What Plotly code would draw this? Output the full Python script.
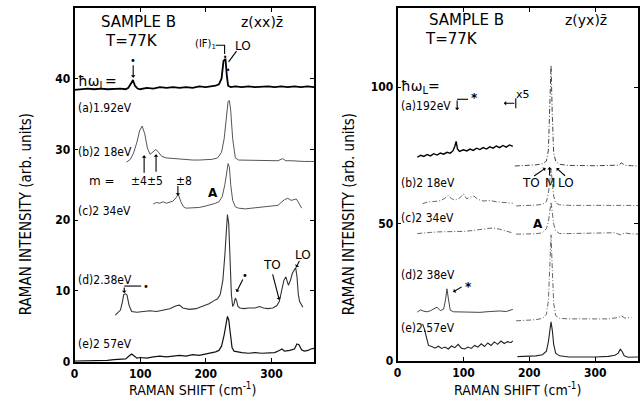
import plotly.graph_objects as go

# ---------------- data: left panel z(xx)z ----------------
a_x = [0, 10, 20, 30, 40, 50, 60, 70, 78, 82, 86, 89, 92, 96, 100, 110, 120, 130, 140, 150,
       160, 170, 180, 190, 200, 210, 215, 220, 224, 227, 230, 232, 234, 238, 245, 255, 265, 275, 285, 295,
       305, 315, 325, 335, 345, 355, 365]
a_y = [38.4, 38.5, 38.6, 38.5, 38.6, 38.5, 38.6, 38.6, 38.5, 38.7, 39.3, 39.8, 39.0, 38.6, 38.5, 38.7, 38.6, 38.8, 38.7, 38.8,
       38.7, 38.8, 38.7, 38.9, 38.8, 38.9, 39.0, 39.2, 40.0, 42.5, 42.8, 40.5, 39.0, 38.8, 38.9, 38.8, 38.9, 38.8, 38.9, 38.9,
       38.8, 38.9, 38.8, 38.9, 38.8, 38.9, 38.8]

b_x = [79, 85, 90, 95, 99, 103, 107, 111, 115, 119, 124, 128, 133, 140, 150, 160, 170, 180, 190, 200,
       210, 218, 224, 228, 231, 234, 236, 238, 241, 245, 250, 260, 270, 280, 290, 300, 310, 317, 322, 330,
       340, 350, 360, 365]
b_y = [28.2, 28.6, 29.5, 31.0, 32.6, 33.3, 32.2, 30.2, 29.3, 29.6, 30.0, 29.6, 29.0, 28.8, 28.7, 28.6, 28.6, 28.5, 28.5, 28.5,
       28.6, 28.8, 29.6, 31.5, 34.5, 36.8, 36.9, 35.5, 31.5, 28.8, 28.5, 28.5, 28.4, 28.4, 28.5, 28.4, 28.4, 28.7, 28.4, 28.4,
       28.3, 28.3, 28.3, 28.3]

c_x = [120, 125, 130, 135, 140, 145, 150, 155, 158, 162, 166, 170, 180, 190, 200, 210, 215, 220, 225, 229,
       232, 234, 236, 238, 241, 245, 250, 260, 270, 280, 290, 300, 310, 316, 320, 325, 330, 334, 338, 342, 346]
c_y = [22.3, 22.5, 22.4, 22.6, 22.4, 22.5, 22.7, 23.2, 23.7, 22.6, 21.9, 21.7, 21.7, 21.8, 22.0, 22.2, 22.4, 22.6, 23.3, 25.0,
       27.2, 28.0, 27.5, 25.0, 22.8, 21.9, 21.7, 21.6, 21.7, 21.8, 21.8, 21.9, 22.1, 22.6, 22.9, 23.1, 22.8, 22.9, 23.0, 22.4, 21.7]

d_x = [62, 66, 70, 73, 75, 78, 80, 83, 87, 95, 105, 115, 125, 135, 145, 155, 160, 165, 175, 185,
       195, 205, 212, 218, 222, 226, 229, 231, 233, 235, 237, 239, 241, 243, 245, 247, 249, 252, 258, 265,
       275, 282, 288, 295, 302, 308, 312, 316, 319, 322, 324, 326, 329, 332, 335, 337, 339, 341, 343, 346, 348]
d_y = [6.6, 6.9, 7.3, 8.5, 9.5, 9.6, 9.4, 8.0, 7.1, 7.0, 7.1, 7.2, 7.1, 7.3, 7.5, 7.9, 8.0, 7.6, 7.4, 7.5,
       7.8, 8.2, 8.6, 8.9, 9.5, 11.5, 15.0, 19.0, 20.8, 19.5, 14.0, 9.5, 7.8, 8.2, 9.0, 8.6, 7.8, 7.6, 7.5, 7.6,
       7.6, 7.8, 7.6, 7.5, 7.6, 7.9, 8.5, 10.0, 11.5, 12.0, 11.3, 10.8, 11.5, 12.5, 13.0, 13.3, 12.0, 9.5, 8.5, 8.0, 7.7]

e_x = [0, 10, 20, 30, 40, 50, 60, 70, 78, 83, 87, 91, 95, 100, 110, 120, 130, 140, 150, 160,
       170, 180, 190, 200, 210, 215, 220, 224, 228, 231, 233, 235, 237, 240, 243, 247, 255, 265, 275, 285,
       295, 305, 312, 316, 320, 328, 335, 339, 342, 346, 350, 356, 360, 365]
e_y = [0.1, 0.1, 0.2, 0.1, 0.2, 0.2, 0.3, 0.3, 0.4, 0.8, 1.1, 0.8, 0.5, 0.6, 0.5, 0.7, 0.8, 0.7, 0.8, 0.9,
       0.8, 1.0, 0.9, 1.1, 1.2, 1.4, 1.6, 2.2, 3.8, 5.8, 6.4, 5.9, 4.0, 2.0, 1.5, 1.4, 1.3, 1.2, 1.3, 1.2,
       1.3, 1.3, 1.6, 1.8, 1.5, 1.6, 1.8, 2.5, 2.4, 1.7, 1.5, 1.6, 1.8, 1.9]

# ---------------- data: right panel z(yx)z ----------------
ra1_x = [30, 35, 40, 45, 50, 55, 60, 65, 70, 75, 80, 84, 87, 89, 91, 94, 100, 105, 110, 115,
         120, 125, 130, 135, 140, 145, 150, 155, 160, 165, 170, 175]
ra1_y = [74.4, 75.1, 74.7, 75.4, 74.9, 75.7, 75.2, 75.9, 75.5, 76.2, 75.9, 76.7, 78.4, 80.2, 77.4, 76.5, 77.1, 76.7, 77.4, 76.9,
         77.7, 77.2, 77.9, 77.4, 78.2, 77.7, 78.5, 77.9, 78.7, 78.1, 78.9, 78.4]
ra2_x = [178, 190, 200, 210, 220, 226, 229, 231, 233, 235, 237, 240, 246, 260, 280, 300, 320, 335, 340, 345, 355, 365]
ra2_y = [71.2, 71.3, 71.4, 71.6, 72.0, 73.0, 77.0, 91.0, 108.0, 89.0, 76.0, 73.0, 71.8, 71.4, 71.3, 71.3, 71.4, 71.5, 72.3, 71.5, 71.3, 71.2]

rb1_x = [38, 45, 55, 65, 72, 77, 82, 88, 94, 100, 105, 110, 116, 122, 130, 140, 150, 160, 170, 175]
rb1_y = [57.4, 58.0, 58.2, 58.5, 59.4, 60.5, 59.2, 58.8, 59.4, 61.0, 59.2, 59.8, 60.2, 59.0, 58.4, 58.6, 58.1, 58.0, 57.8, 57.6]
rb2_x = [180, 195, 210, 220, 226, 229, 231, 233, 235, 237, 240, 246, 260, 280, 300, 320, 340, 355, 365]
rb2_y = [56.6, 56.7, 56.9, 57.2, 58.2, 61.2, 66.2, 70.2, 65.2, 60.2, 57.7, 57.0, 56.8, 56.8, 56.9, 56.8, 57.0, 56.8, 56.7]

rc1_x = [30, 40, 50, 60, 70, 80, 90, 100, 110, 120, 130, 137, 145, 155, 165, 175]
rc1_y = [46.5, 46.8, 46.9, 47.1, 47.1, 47.2, 47.3, 47.3, 47.5, 47.7, 48.1, 48.4, 48.5, 48.1, 47.5, 46.7]
rc2_x = [180, 195, 210, 220, 226, 229, 231, 233, 235, 237, 240, 246, 260, 280, 300, 320, 330, 338, 345, 355, 365]
rc2_y = [46.3, 46.3, 46.4, 46.8, 48.3, 50.8, 54.8, 58.0, 54.0, 50.0, 47.5, 46.5, 46.5, 46.6, 46.7, 46.6, 46.8, 46.0, 46.7, 46.4, 46.3]

rd1_x = [30, 35, 40, 45, 50, 55, 60, 65, 70, 73, 75, 77, 80, 85, 95, 110, 125, 140, 155, 165, 175]
rd1_y = [17.8, 18.6, 18.1, 17.9, 18.3, 19.0, 19.6, 18.3, 18.9, 22.5, 26.3, 23.0, 18.5, 17.9, 17.8, 17.9, 17.7, 18.0, 18.2, 18.0, 18.8]
rd2_x = [180, 195, 210, 220, 226, 229, 231, 233, 235, 237, 240, 246, 260, 280, 300, 320, 335, 340, 345, 355]
rd2_y = [14.6, 14.8, 15.0, 15.5, 17.0, 22.0, 34.0, 46.0, 33.0, 21.0, 16.5, 15.5, 15.3, 15.3, 15.4, 15.3, 15.8, 16.4, 15.6, 15.9]

re1_x = [38, 41, 44, 47, 52, 57, 62, 67, 72, 77, 82, 87, 92, 97, 102, 107, 112, 117, 122, 127,
         132, 137, 142, 147, 152, 157, 162, 167, 172, 175]
re1_y = [13.5, 11.5, 8.5, 5.6, 5.2, 4.6, 5.3, 4.5, 5.0, 4.3, 5.4, 4.8, 6.0, 4.6, 4.3, 5.0, 4.5, 5.6, 5.0, 6.2,
         5.2, 6.5, 5.6, 6.9, 6.0, 7.2, 6.3, 7.0, 6.6, 7.3]
re2_x = [182, 195, 210, 220, 226, 229, 231, 233, 235, 237, 240, 246, 260, 280, 300, 320, 330, 335, 338, 341, 344, 350, 365]
re2_y = [1.5, 1.6, 1.8, 2.2, 3.5, 7.0, 12.0, 14.2, 11.0, 6.0, 2.8, 1.8, 1.4, 1.3, 1.4, 1.6, 2.0, 2.8, 4.2, 3.4, 1.8, 1.3, 1.4]

left_yticks = [0, 10, 20, 30, 40]
right_yticks = [0, 50, 100]
xticks = [0, 100, 200, 300]

# ---------------- figure ----------------
W, H = 640, 412
def X(px): return px / W
def Y(py): return 1 - py / H

COND = "DejaVu Sans Condensed, Liberation Sans Narrow, DejaVu Sans"
SANS = "DejaVu Sans, Noto Sans"

fig = go.Figure()

def line(x, y, axis, color="#222", width=1.1, dash="solid"):
    fig.add_trace(go.Scatter(x=x, y=y, mode="lines", xaxis="x" if axis == 1 else "x2",
                             yaxis="y" if axis == 1 else "y2",
                             line=dict(color=color, width=width, dash=dash),
                             showlegend=False, hoverinfo="skip"))

FINE = "5px,2px,1px,2px"
line(a_x, a_y, 1, "#000", 1.8)
line(b_x, b_y, 1, "#555", 1.0)
line(c_x, c_y, 1, "#555", 1.0)
line(d_x, d_y, 1, "#333", 1.1)
line(e_x, e_y, 1, "#111", 1.2)

line(ra1_x, ra1_y, 2, "#000", 1.4)
line(ra2_x, ra2_y, 2, "#444", 1.0, FINE)
line(rb1_x, rb1_y, 2, "#666", 1.0, FINE)
line(rb2_x, rb2_y, 2, "#666", 1.0, FINE)
line(rc1_x, rc1_y, 2, "#666", 1.0, FINE)
line(rc2_x, rc2_y, 2, "#666", 1.0, FINE)
line(rd1_x, rd1_y, 2, "#444", 1.0)
line(rd2_x, rd2_y, 2, "#666", 1.0, FINE)
line(re1_x, re1_y, 2, "#222", 1.1)
line(re2_x, re2_y, 2, "#222", 1.1)

axis_common = dict(showline=True, linecolor="black", linewidth=1.6, mirror="ticks",
                   ticks="inside", ticklen=4, tickwidth=1.3, tickcolor="black",
                   showgrid=False, zeroline=False,
                   tickfont=dict(family=COND, size=12, color="black", weight="bold"))

fig.update_layout(
    width=W, height=H, margin=dict(l=0, r=0, t=0, b=0),
    paper_bgcolor="white", plot_bgcolor="white",
    xaxis=dict(domain=[X(71), X(312)], range=[0, 365], tickvals=xticks, anchor="y", **axis_common),
    yaxis=dict(domain=[Y(368), Y(8)], range=[0, 50], tickvals=left_yticks, anchor="x", **axis_common),
    xaxis2=dict(domain=[X(396), X(638)], range=[0, 365], tickvals=xticks, anchor="y2", **axis_common),
    yaxis2=dict(domain=[Y(367), Y(8)], range=[0, 129], tickvals=right_yticks, anchor="x2", **axis_common),
)

ann = []
def txt(s, px, py, size=12, xanchor="center", fam=COND, weight="normal", angle=0):
    ann.append(dict(text=s, x=X(px), y=Y(py), xref="paper", yref="paper", showarrow=False,
                    xanchor=xanchor, yanchor="middle", textangle=angle,
                    font=dict(family=fam, size=size, color="black", weight=weight)))

def arrow(hx, hy, tx, ty, head=1, size=0.7):
    ann.append(dict(text="", x=X(hx), y=Y(hy), xref="paper", yref="paper",
                    ax=tx - hx, ay=ty - hy, axref="pixel", ayref="pixel", showarrow=True,
                    arrowhead=head, arrowsize=size, arrowwidth=1.1, arrowcolor="black"))

shapes = []
def seg(pts):
    path = "M " + " L ".join(f"{X(p[0])},{Y(p[1])}" for p in pts)
    shapes.append(dict(type="path", path=path, xref="paper", yref="paper",
                       line=dict(color="black", width=1.1)))

# ---- left panel texts ----
txt("SAMPLE B", 135, 22, 15, fam=SANS)
txt("T=77K", 128, 42, 15, fam=SANS)
txt("z(xx)z\u0304", 260, 22, 14, fam=SANS)
txt("(IF)<sub>1</sub>", 203, 45, 10, fam=SANS)
txt("LO", 240, 47, 12, fam=SANS)
txt("\u0127\u03c9<sub>L</sub>=", 72, 83, 14, "left", fam=SANS)
txt("(a)1.92eV", 72, 110, 12, "left")
txt("(b)2 18eV", 72, 155, 12, "left")
txt("m =", 99, 184, 12, fam=SANS)
txt("\u00b14\u00b15", 144, 184, 12)
txt("\u00b18", 181, 184, 12)
txt("A", 210, 196, 12, fam=SANS, weight="bold")
txt("(c)2 34eV", 72, 215, 12, "left")
txt("TO", 270, 270, 12, fam=SANS)
txt("LO", 301, 259, 12, fam=SANS)
txt("(d)2.38eV", 72, 285, 12, "left")
txt("(e)2 57eV", 72, 350, 12, "left")
txt("\u2022", 130, 62, 11)
txt("\u2022", 222, 58, 8)
txt("\u2022", 225, 72, 8)
txt("\u2022", 143, 291, 11)
txt("\u2022", 243, 280, 11)
txt("RAMAN SHIFT (cm<sup>-1</sup>)", 190, 396, 14)
txt("RAMAN INTENSITY (arb. units)", 22, 218, 15, angle=-90)

arrow(130, 79, 130, 65)
seg([(213, 46), (222, 46), (222, 55)])
seg([(234, 52), (226, 63)])
arrow(141, 158, 141, 177)
arrow(153, 157, 153, 176)
arrow(175, 199, 175, 188)
seg([(121, 291), (138, 291)])
arrow(121, 298, 121, 291)
arrow(234, 297, 241, 283)
arrow(277, 305, 270, 278)
arrow(294, 272, 298, 264)

# ---- right panel texts ----
txt("SAMPLE B", 465, 20, 15, fam=SANS)
txt("T=77K", 450, 40, 15, fam=SANS)
txt("z(yx)z\u0304", 586, 20, 14, fam=SANS)
txt("\u0127\u03c9<sub>L</sub>=", 397, 89, 14, "left", fam=SANS)
txt("(a)192eV", 397, 108, 12, "left")
txt("*", 473, 100, 12, fam=SANS, weight="bold")
txt("x5", 522, 96, 11, fam=SANS)
txt("(b)2 18eV", 397, 186, 12, "left")
txt("TO", 530, 186, 12, fam=SANS)
txt("M", 549, 186, 12, fam=SANS)
txt("LO", 566, 186, 12, fam=SANS)
txt("(c)2 34eV", 397, 222, 12, "left")
txt("A", 537, 228, 12, fam=SANS, weight="bold")
txt("(d)2 38eV", 397, 280, 12, "left")
txt("*", 467, 292, 12, fam=SANS, weight="bold")
txt("(e)2.57eV", 397, 334, 12, "left")
txt("RAMAN SHIFT (cm<sup>-1</sup>)", 517, 396, 14)
txt("RAMAN INTENSITY (arb. units)", 347, 218, 15, angle=-90)

seg([(456, 101), (467, 101)])
arrow(456, 112, 456, 101)
seg([(515, 100), (515, 110)])
arrow(503, 105, 515, 105)
arrow(545, 171, 532, 180)
arrow(549, 170, 549, 180)
arrow(556, 171, 566, 180)
arrow(452, 297, 462, 291)

fig.update_layout(annotations=ann, shapes=shapes)
fig.write_html("out.html")
